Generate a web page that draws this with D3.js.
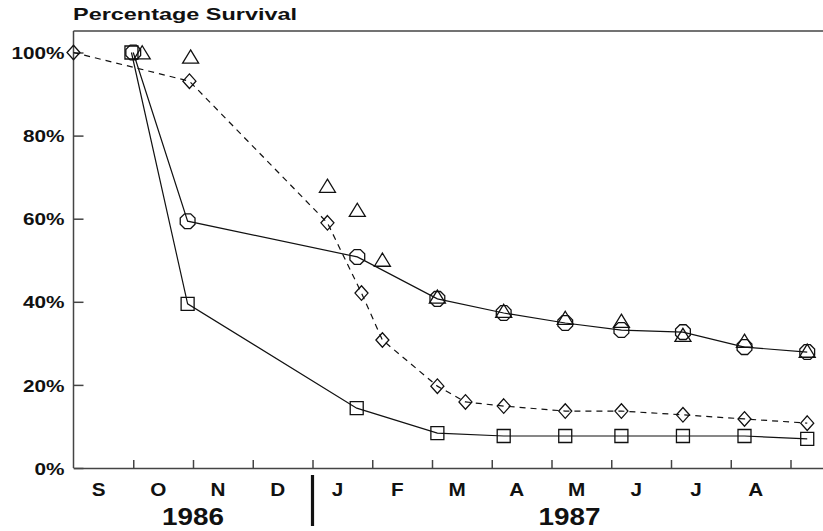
<!DOCTYPE html>
<html>
<head>
<meta charset="utf-8">
<script src="https://cdn.jsdelivr.net/npm/d3@7"></script>
<style>
  body { margin: 0; background: #fff; }
  text { font-family: "Liberation Sans", Arial, sans-serif; font-weight: bold; fill: #111; }
</style>
</head>
<body>
<svg id="chart" width="823" height="531"></svg>
<script>
// months counted from 1 Sep 1986
const monthLabels = ['S', 'O', 'N', 'D', 'J', 'F', 'M', 'A', 'M', 'J', 'J', 'A']
const yearLabels = ['1986', '1987']
const yearCenters = [2, 8.3] // in months
const yTicks = [0, 20, 40, 60, 80, 100]

const circleMonths = [1.0, 1.91, 4.75, 6.09, 7.2, 8.23, 9.17, 10.2, 11.23, 12.28]
const circleValues = [100, 59.4, 50.8, 40.7, 37.3, 34.9, 33.2, 32.7, 29.1, 27.9]

const squareMonths = [0.97, 1.91, 4.74, 6.09, 7.2, 8.23, 9.17, 10.2, 11.23, 12.28]
const squareValues = [100, 39.5, 14.4, 8.4, 7.7, 7.7, 7.7, 7.7, 7.7, 7.0]

const triangleMonths = [1.15, 1.96, 4.25, 4.75, 5.17, 6.09, 7.2, 8.23, 9.17, 10.2, 11.23, 12.28]
const triangleValues = [100, 99, 67.9, 62.1, 50.1, 41.2, 37.8, 36.1, 35.4, 32.0, 30.6, 28.2]

const diamondMonths = [0, 1.94, 4.25, 4.82, 5.17, 6.09, 6.56, 7.2, 8.23, 9.17, 10.2, 11.23, 12.28]
const diamondValues = [100, 93.1, 59.0, 42.1, 30.8, 19.7, 15.9, 14.9, 13.7, 13.7, 12.8, 11.8, 10.8]

const zip = (ms, vs) => ms.map((m, i) => ({m, v: vs[i]}))

const svg = d3.select('#chart')
const plotTop = 31, plotBottom = 468, plotLeft = 73.5
const x = d3.scaleLinear().domain([0, 12.6]).range([plotLeft, plotLeft + 12.6 * 59.75])
const y = d3.scaleLinear().domain([0, 100]).range([plotBottom, 52.5])

// stretch helper: the original lettering is wider than Arial
const stretch = (sel, k) => sel.each(function () {
  const w = this.getComputedTextLength()
  d3.select(this).attr('textLength', w * k).attr('lengthAdjust', 'spacingAndGlyphs')
})

// frame top
svg.append('line')
  .attr('x1', plotLeft).attr('x2', 823).attr('y1', plotTop).attr('y2', plotTop)
  .attr('stroke', '#444').attr('stroke-width', 1.5)

// y axis, ticks pointing inward
const yAxis = svg.append('g')
  .attr('transform', `translate(${plotLeft},0)`)
  .call(d3.axisLeft(y).tickValues(yTicks).tickSize(-10).tickSizeOuter(0)
    .tickPadding(9).tickFormat(d => d + '%'))
yAxis.select('.domain').attr('d', `M0,${plotTop}V${plotBottom}`)
yAxis.selectAll('line, path').attr('stroke', '#444').attr('stroke-width', 1.5)
yAxis.selectAll('text').attr('font-size', 17).attr('dy', '0.36em')
  .call(stretch, 1.22)

// x axis, ticks pointing inward, no labels
const xAxis = svg.append('g')
  .attr('transform', `translate(0,${plotBottom})`)
  .call(d3.axisBottom(x).tickValues(d3.range(1, 13)).tickSize(-8).tickSizeOuter(0).tickFormat(''))
xAxis.selectAll('line, path').attr('stroke', '#444').attr('stroke-width', 1.5)

svg.append('g').selectAll('text')
  .data(monthLabels)
  .join('text')
  .attr('x', (d, i) => x(i + 0.42))
  .attr('y', 496)
  .attr('text-anchor', 'middle')
  .attr('font-size', 18)
  .text(d => d)
  .call(stretch, 1.15)

svg.append('g').selectAll('text')
  .data(yearLabels)
  .join('text')
  .attr('x', (d, i) => x(yearCenters[i]))
  .attr('y', 525)
  .attr('text-anchor', 'middle')
  .attr('font-size', 24)
  .text(d => d)
  .call(stretch, 1.16)

// year separator
svg.append('line')
  .attr('x1', x(4)).attr('x2', x(4)).attr('y1', 475).attr('y2', 526)
  .attr('stroke', '#111').attr('stroke-width', 3.2)

svg.append('text')
  .attr('x', 73).attr('y', 20)
  .attr('font-size', 17)
  .attr('textLength', 224).attr('lengthAdjust', 'spacingAndGlyphs')
  .text('Percentage Survival')

// marker shapes
const octagon = {draw(ctx, r) {
  for (let i = 0; i < 8; i++) {
    const a = Math.PI / 8 + i * Math.PI / 4
    const px = r * Math.cos(a), py = r * Math.sin(a)
    i ? ctx.lineTo(px, py) : ctx.moveTo(px, py)
  }
  ctx.closePath()
}}
const square = {draw(ctx, s) { ctx.rect(-s / 2, -s / 2, s, s) }}
const triangle = {draw(ctx, s) {
  ctx.moveTo(0, -s * 0.42); ctx.lineTo(s / 2, s * 0.4); ctx.lineTo(-s / 2, s * 0.4); ctx.closePath()
}}
const diamond = {draw(ctx, s) {
  ctx.moveTo(0, -s * 0.56); ctx.lineTo(s / 2, 0); ctx.lineTo(0, s * 0.56); ctx.lineTo(-s / 2, 0); ctx.closePath()
}}

const line = d3.line().x(d => x(d.m)).y(d => y(d.v))

const series = [
  {data: zip(squareMonths, squareValues), shape: square, size: 13, line: true},
  {data: zip(circleMonths, circleValues), shape: octagon, size: 8, line: true},
  {data: zip(diamondMonths, diamondValues), shape: diamond, size: 13, line: true, dash: '6,5'},
  {data: zip(triangleMonths, triangleValues), shape: triangle, size: 16, line: false}
]

series.forEach(s => {
  if (s.line) {
    svg.append('path')
      .datum(s.data)
      .attr('d', line)
      .attr('fill', 'none')
      .attr('stroke', '#111')
      .attr('stroke-width', 1.2)
      .attr('stroke-dasharray', s.dash || null)
  }
  svg.append('g').selectAll('path')
    .data(s.data)
    .join('path')
    .attr('transform', d => `translate(${x(d.m)},${y(d.v)})`)
    .attr('d', d3.symbol().type(s.shape).size(s.size))
    .attr('fill', 'none')
    .attr('stroke', '#111')
    .attr('stroke-width', 1.3)
})
</script>
</body>
</html>
